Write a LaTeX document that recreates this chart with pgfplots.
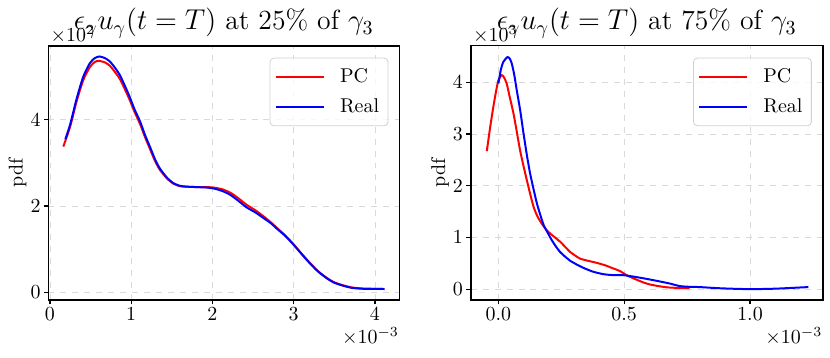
\documentclass[border=0pt]{standalone}
\usepackage{pgfplots}
\pgfplotsset{compat=1.18}

% values in plotted units: x in 1e-3, y in 1e2 (left) and 1e3 (right)
\pgfplotstableread{
x y
0.165 3.38
0.25 3.85
0.33 4.44
0.41 4.92
0.49 5.22
0.55 5.34
0.60 5.37
0.68 5.33
0.74 5.25
0.80 5.11
0.86 4.95
0.92 4.72
0.98 4.47
1.04 4.19
1.11 3.90
1.17 3.60
1.23 3.33
1.29 3.06
1.35 2.85
1.44 2.64
1.52 2.52
1.60 2.46
1.68 2.45
1.80 2.44
1.92 2.44
2.01 2.43
2.12 2.39
2.22 2.31
2.32 2.18
2.42 2.03
2.53 1.90
2.63 1.76
2.72 1.62
2.79 1.50
2.90 1.31
3.00 1.11
3.10 0.89
3.20 0.68
3.30 0.49
3.41 0.33
3.50 0.23
3.61 0.16
3.72 0.11
3.86 0.085
4.00 0.08
4.10 0.078
}\pcleft

\pgfplotstableread{
x y
0.19 3.55
0.25 3.90
0.33 4.50
0.41 5.00
0.49 5.31
0.55 5.43
0.61 5.47
0.68 5.43
0.74 5.35
0.80 5.21
0.86 5.04
0.92 4.80
0.98 4.54
1.04 4.25
1.11 3.96
1.17 3.65
1.23 3.38
1.29 3.10
1.35 2.88
1.44 2.66
1.52 2.53
1.60 2.47
1.68 2.45
1.80 2.44
1.92 2.43
2.01 2.41
2.12 2.35
2.22 2.26
2.32 2.12
2.42 1.97
2.53 1.85
2.63 1.72
2.72 1.60
2.79 1.48
2.90 1.30
3.00 1.10
3.10 0.88
3.20 0.67
3.30 0.48
3.41 0.32
3.50 0.22
3.61 0.15
3.72 0.10
3.86 0.08
4.00 0.077
4.12 0.075
}\realleft

\pgfplotstableread{
x y
-0.046 2.67
-0.033 3.12
-0.020 3.53
-0.008 3.86
0.000 4.04
0.013 4.14
0.022 4.10
0.033 3.98
0.045 3.72
0.060 3.40
0.073 3.05
0.086 2.69
0.100 2.38
0.113 2.11
0.127 1.83
0.140 1.59
0.155 1.41
0.172 1.27
0.190 1.15
0.205 1.08
0.225 1.00
0.245 0.92
0.265 0.82
0.285 0.72
0.305 0.65
0.325 0.59
0.355 0.55
0.390 0.51
0.425 0.46
0.457 0.40
0.483 0.35
0.510 0.27
0.536 0.21
0.576 0.13
0.603 0.09
0.635 0.06
0.670 0.035
0.705 0.025
0.735 0.02
0.760 0.025
}\pcright

\pgfplotstableread{
x y
0.000 3.98
0.010 4.25
0.020 4.40
0.036 4.49
0.045 4.46
0.053 4.37
0.063 4.15
0.073 3.85
0.087 3.45
0.100 3.01
0.113 2.60
0.126 2.24
0.140 1.93
0.153 1.66
0.167 1.43
0.180 1.24
0.195 1.10
0.212 0.95
0.228 0.83
0.245 0.72
0.265 0.63
0.285 0.55
0.310 0.48
0.339 0.41
0.375 0.34
0.417 0.29
0.460 0.27
0.497 0.27
0.540 0.24
0.576 0.21
0.620 0.17
0.680 0.11
0.720 0.06
0.760 0.045
0.800 0.04
0.868 0.02
0.930 0.008
1.000 0.0
1.050 0.003
1.106 0.01
1.170 0.025
1.232 0.04
}\realright

\pgfplotsset{
  every axis title/.style={at={(0.5,1)}, anchor=base, yshift=7.9bp,
    font=\fontsize{13.9}{16}\selectfont},
  panel/.style={
    scale only axis,
    clip mode=individual,
    width=175.5bp, height=127.15bp,
    axis line style={line width=0.8pt},
    tick align=outside,
    major tick length=2.2bp,
    tick style={black, line width=0.6pt},
    xtick pos=bottom, ytick pos=left,
    tick label style={inner sep=1.5pt},
    grid=major,
    grid style={dashed, line width=0.4pt, black!15},
    scaled ticks=false,
    ylabel={pdf},
    ylabel style={yshift=-3bp},
    legend style={at={(rel axis cs:0.969,0.953)}, anchor=north east,
      draw=black!18, rounded corners=2bp, fill=white, fill opacity=0.8,
      text opacity=1, inner xsep=2.5bp, inner ysep=3bp, row sep=3bp},
    legend cell align=left,
    legend image code/.code={\draw[#1] (0bp,0bp) -- (24bp,0bp); \path (29.5bp,0bp);},
  },
}

\begin{document}
\begin{tikzpicture}
\path[use as bounding box] (0,0) rectangle (415bp,179bp);

\begin{axis}[panel,
  at={(24.15bp,29bp)}, anchor=south west,
  xmin=-0.02, xmax=4.3, ymin=-0.18, ymax=5.72,
  xtick={0,1,2,3,4}, ytick={0,2,4},
  title={$\epsilon_\gamma u_\gamma(t=T)$ at 25\% of $\gamma_3$},
]
\addplot[red, line width=1pt, smooth, tension=0.4] table {\pcleft};
\addplot[blue, line width=1pt, smooth, tension=0.4] table {\realleft};
\legend{PC, Real}
\node[anchor=base west, inner sep=0, xshift=1bp, yshift=2bp] at (rel axis cs:0,1) {$\times10^{2}$};
\node[anchor=north east, inner sep=0, yshift=-13.5bp] at (rel axis cs:1,0) {$\times10^{-3}$};
\end{axis}

\begin{axis}[panel,
  at={(235.35bp,29bp)}, anchor=south west,
  width=176bp,
  xmin=-0.11, xmax=1.289, ymin=-0.21, ymax=4.71,
  xtick={0,0.5,1}, ytick={0,1,2,3,4},
  xticklabel style={/pgf/number format/.cd, fixed, fixed zerofill, precision=1},
  title={$\epsilon_\gamma u_\gamma(t=T)$ at 75\% of $\gamma_3$},
]
\addplot[red, line width=1pt, smooth, tension=0.4] table {\pcright};
\addplot[blue, line width=1pt, smooth, tension=0.4] table {\realright};
\legend{PC, Real}
\node[anchor=base west, inner sep=0, xshift=1bp, yshift=2bp] at (rel axis cs:0,1) {$\times10^{3}$};
\node[anchor=north east, inner sep=0, yshift=-13.5bp] at (rel axis cs:1,0) {$\times10^{-3}$};
\end{axis}
\end{tikzpicture}
\end{document}
